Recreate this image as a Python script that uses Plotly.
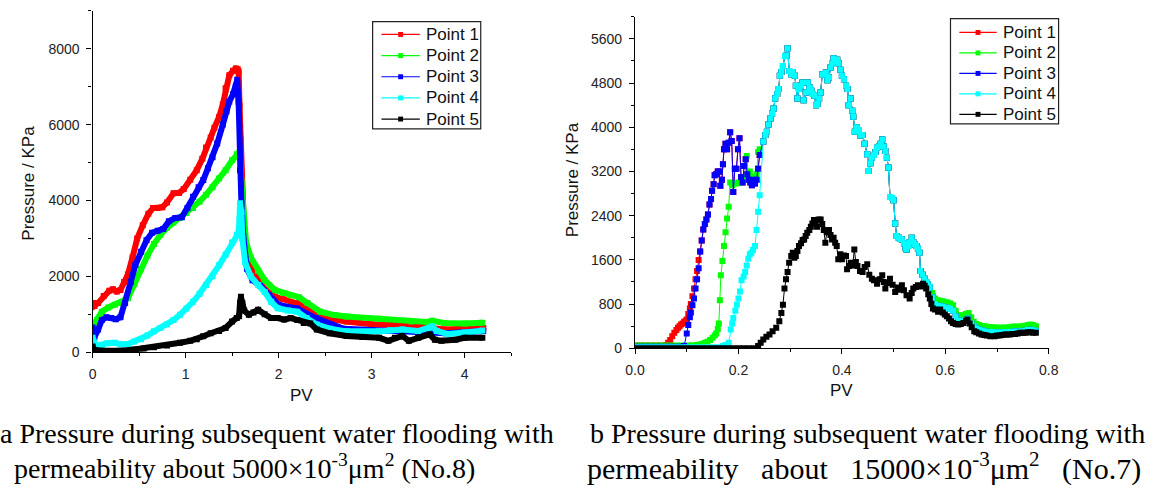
import plotly.graph_objects as go

# ---------------- (a) No.8, permeability ~5000e-3 um^2 ----------------
a1_pv = [0, 0.02, 0.06, 0.12, 0.18, 0.22, 0.26, 0.3, 0.34, 0.38, 0.43, 0.48, 0.54, 0.6, 0.65, 0.7,
         0.75, 0.8, 0.87, 0.93, 0.98, 1.05, 1.12, 1.18, 1.22, 1.27, 1.31, 1.36, 1.40, 1.43, 1.47, 1.51,
         1.54, 1.56, 1.57, 1.58, 1.59, 1.6, 1.61, 1.63, 1.66, 1.7, 1.76, 1.82, 1.9, 1.96, 2.05, 2.2,
         2.3, 2.38, 2.5, 2.73, 3.0, 3.3, 3.5, 3.7, 3.78, 4.0, 4.2]
a1_p = [1300, 1220, 1300, 1480, 1620, 1660, 1600, 1640, 1850, 2050, 2500, 3000, 3350, 3650, 3800, 3800,
        3820, 3950, 4190, 4200, 4300, 4550, 4800, 5100, 5400, 5660, 5920, 6200, 6530, 6960, 7300, 7420,
        7480, 7460, 7400, 6500, 5600, 4600, 3800, 3100, 2600, 2300, 2000, 1750, 1560, 1460, 1400, 1300,
        1200, 1000, 900, 810, 740, 710, 690, 620, 600, 620, 640]

a2_pv = [0, 0.05, 0.1, 0.17, 0.24, 0.3, 0.38, 0.45, 0.52, 0.59, 0.66, 0.73, 0.8, 0.87, 0.94, 1.01,
         1.08, 1.15, 1.22, 1.29, 1.36, 1.43, 1.5, 1.55, 1.58, 1.6, 1.62, 1.65, 1.7, 1.78, 1.85, 1.96,
         2.05, 2.13, 2.22, 2.31, 2.45, 2.6, 2.73, 3.08, 3.43, 3.6, 3.65, 3.78, 4.0, 4.19]
a2_p = [680, 850, 1070, 1180, 1250, 1300, 1420, 1800, 2200, 2550, 2850, 3100, 3280, 3420, 3540, 3670,
        3800, 3970, 4150, 4350, 4580, 4800, 5060, 5220, 5270, 4500, 3600, 2900, 2500, 2150, 1900, 1640,
        1560, 1500, 1450, 1300, 1070, 980, 940, 880, 810, 800, 830, 770, 760, 780]

a3_pv = [0, 0.02, 0.06, 0.1, 0.15, 0.2, 0.25, 0.3, 0.35, 0.41, 0.46, 0.52, 0.58, 0.64, 0.7, 0.76,
         0.82, 0.89, 0.96, 1.02, 1.08, 1.14, 1.19, 1.24, 1.29, 1.34, 1.40, 1.44, 1.47, 1.51, 1.54, 1.555,
         1.57, 1.585, 1.6, 1.62, 1.66, 1.72, 1.8, 1.9, 2.0, 2.2, 2.4, 2.7, 3.0, 3.4, 3.8, 4.2]
a3_p = [650, 400, 600, 850, 920, 900, 870, 920, 1300, 1850, 2300, 2650, 2950, 3150, 3200, 3250,
        3450, 3540, 3560, 3800, 4100, 4350, 4540, 4850, 5140, 5500, 6000, 6350, 6610, 6800, 7000, 7180,
        6600, 4800, 3930, 3060, 2200, 1900, 1750, 1500, 1250, 1150, 900, 620, 580, 560, 500, 560]

a4_pv = [0, 0.04, 0.1, 0.16, 0.24, 0.3, 0.38, 0.45, 0.52, 0.59, 0.66, 0.73, 0.8, 0.87, 0.94, 1.01,
         1.08, 1.15, 1.22, 1.29, 1.36, 1.43, 1.5, 1.55, 1.57, 1.58, 1.585, 1.6, 1.61, 1.64, 1.7, 1.78,
         1.85, 1.92, 1.99, 2.1, 2.2, 2.3, 2.41, 2.55, 2.73, 3.08, 3.2, 3.33, 3.5, 3.61, 3.65, 3.7,
         3.82, 4.0, 4.19]
a4_p = [380, 170, 200, 240, 250, 210, 220, 280, 340, 440, 550, 640, 730, 850, 990, 1150,
        1330, 1540, 1770, 2000, 2290, 2570, 2890, 3100, 3150, 3500, 3930, 3700, 3000, 2370, 2000, 1770,
        1590, 1330, 1160, 1100, 1070, 900, 730, 620, 550, 550, 580, 600, 560, 620, 680, 560,
        480, 520, 570]

a5_pv = [0, 0.02, 0.1, 0.2, 0.31, 0.45, 0.55, 0.66, 0.8, 0.94, 1.05, 1.12, 1.19, 1.27, 1.36, 1.43,
         1.5, 1.55, 1.575, 1.585, 1.595, 1.61, 1.63, 1.68, 1.73, 1.78, 1.85, 1.92, 1.99, 2.06, 2.13, 2.2,
         2.27, 2.34, 2.41, 2.55, 2.73, 2.9, 3.08, 3.18, 3.25, 3.33, 3.4, 3.5, 3.62, 3.68, 3.75, 3.9,
         4.0, 4.19]
a5_p = [150, 60, 40, 30, 40, 70, 100, 130, 180, 250, 300, 340, 420, 500, 560, 640,
        810, 900, 950, 1300, 1460, 1300, 1100, 990, 1050, 1120, 1000, 900, 900, 860, 900, 850,
        770, 760, 600, 500, 430, 400, 380, 300, 380, 430, 300, 380, 470, 330, 300, 330,
        380, 380]

# ---------------- (b) No.7, permeability ~15000e-3 um^2 ----------------
# segment shared by points 1 and 3 while they rise together
b13_pv = [0.126, 0.129, 0.132, 0.135, 0.138, 0.141, 0.144, 0.147, 0.149, 0.152, 0.154, 0.157, 0.16,
          0.163, 0.165, 0.168, 0.17, 0.172, 0.175, 0.178, 0.181, 0.184, 0.187, 0.19, 0.193, 0.196,
          0.199, 0.202, 0.205, 0.208, 0.211, 0.214, 0.217, 0.22, 0.223, 0.226, 0.229, 0.232, 0.235,
          0.238, 0.241]
b13_p = [1750, 1950, 2150, 2250, 2330, 2420, 2600, 2700, 2850, 2970, 3130, 3150, 3200,
         3200, 2940, 3050, 3330, 3600, 3700, 3600, 3720, 3910, 3750, 2830, 3250, 3250,
         3600, 3800, 3100, 3000, 3300, 3420, 3150, 3050, 3000, 2950, 3050, 2980, 3050,
         3250, 3500]

# segment shared by points 1-4 (curves overlap)
bm_pv = [0.248, 0.252, 0.255, 0.258, 0.262, 0.265, 0.268, 0.271, 0.275, 0.278, 0.28, 0.283, 0.286,
         0.29, 0.293, 0.295, 0.298, 0.302, 0.305, 0.309, 0.311, 0.314, 0.317, 0.321, 0.324, 0.326,
         0.331, 0.334, 0.338, 0.341, 0.344, 0.347, 0.35, 0.353, 0.356, 0.359, 0.362, 0.366, 0.369,
         0.372, 0.375, 0.378, 0.381, 0.384, 0.388, 0.391, 0.394, 0.397, 0.4, 0.404, 0.408, 0.411,
         0.413, 0.417, 0.42, 0.422, 0.425, 0.429, 0.433, 0.436, 0.44, 0.444, 0.449, 0.452, 0.455,
         0.458, 0.462, 0.465, 0.468, 0.472, 0.475, 0.478, 0.481, 0.484, 0.487, 0.49, 0.493, 0.497,
         0.5, 0.503, 0.506, 0.51, 0.513, 0.516, 0.52, 0.523, 0.525, 0.528, 0.531, 0.535, 0.538,
         0.541, 0.544, 0.547, 0.55, 0.552, 0.556, 0.56, 0.563, 0.566, 0.57]
bm_p = [3740, 3860, 3920, 4050, 4160, 4250, 4340, 4520, 4600, 4690, 4930, 5000, 5110,
        5290, 5300, 5430, 5020, 4960, 5000, 4930, 4750, 4520, 4690, 4750, 4810, 4490,
        4630, 4810, 4720, 4660, 4600, 4570, 4400, 4420, 4520, 4630, 4960, 4950, 4990,
        4850, 4900, 5080, 5150, 5250, 5200, 5220, 5160, 5040, 4930, 4870, 4750, 4690,
        4400, 4520, 4300, 4190, 3920, 4000, 3950, 3850, 3860, 3700, 3510, 3210, 3350,
        3450, 3500, 3550, 3630, 3650, 3700, 3780, 3650, 3570, 3450, 3270, 2740, 2720,
        2680, 2260, 2030, 2000, 1980, 1970, 1900, 1820, 1790, 1850, 1920, 2000, 1920,
        1880, 1850, 1800, 1730, 1400, 1330, 1260, 1200, 1160, 1110]

bt_pv = [0.575, 0.58, 0.585, 0.59, 0.595, 0.6, 0.605, 0.61, 0.615, 0.62, 0.625, 0.63, 0.635, 0.64,
         0.645, 0.65, 0.655, 0.66, 0.665, 0.67, 0.675, 0.68, 0.685, 0.69, 0.695, 0.7, 0.705, 0.71,
         0.715, 0.72, 0.725, 0.73, 0.735, 0.74, 0.745, 0.75, 0.755, 0.76, 0.765, 0.77, 0.775]
bt1_p = [950, 840, 810, 800, 790, 780, 770, 750, 720, 620, 540, 530, 540, 560,
         580, 500, 430, 390, 370, 355, 345, 335, 330, 325, 320, 320, 320, 320,
         325, 320, 330, 340, 345, 340, 345, 350, 360, 370, 375, 365, 350]
bt2_p = [1000, 900, 870, 860, 850, 840, 830, 810, 780, 680, 600, 590, 600, 620,
         640, 560, 480, 440, 420, 410, 400, 390, 385, 380, 375, 370, 370, 370,
         375, 370, 380, 390, 395, 390, 395, 400, 410, 420, 430, 420, 400]
bt34_p = [920, 800, 770, 760, 750, 740, 730, 710, 680, 580, 500, 490, 500, 520,
          540, 460, 400, 360, 340, 320, 310, 300, 295, 290, 285, 285, 285, 285,
          290, 285, 295, 300, 305, 300, 305, 310, 320, 330, 335, 325, 310]

b1_head_pv = [0, 0.01, 0.02, 0.03, 0.04, 0.05, 0.06, 0.064, 0.068, 0.072, 0.076, 0.08, 0.083, 0.086,
              0.089, 0.092, 0.095, 0.098, 0.1, 0.103, 0.106, 0.108, 0.111, 0.114, 0.117, 0.12, 0.123]
b1_head_p = [50, 50, 50, 50, 50, 50, 60, 100, 150, 220, 280, 330, 370, 400,
             430, 450, 480, 500, 520, 620, 720, 800, 940, 1080, 1250, 1400, 1600]

b3_head_pv = [0, 0.01, 0.02, 0.03, 0.04, 0.05, 0.06, 0.07, 0.08, 0.09, 0.095, 0.1, 0.103, 0.106,
              0.108, 0.111, 0.114, 0.117, 0.12, 0.123]
b3_head_p = [30, 30, 30, 30, 30, 30, 30, 30, 30, 30, 40, 270, 420, 560,
             650, 780, 900, 1080, 1250, 1450]

b2_head_pv = [0, 0.01, 0.02, 0.03, 0.04, 0.05, 0.06, 0.07, 0.08, 0.09, 0.1, 0.11, 0.12, 0.125,
              0.13, 0.135, 0.14, 0.145, 0.15, 0.154, 0.157, 0.16, 0.162, 0.164, 0.166, 0.169,
              0.172, 0.175, 0.178, 0.181, 0.184, 0.188, 0.192, 0.196, 0.2, 0.204, 0.208, 0.212,
              0.216, 0.219, 0.222, 0.225, 0.229, 0.232, 0.235, 0.238, 0.241]
b2_head_p = [50, 50, 50, 50, 50, 50, 50, 50, 50, 50, 50, 55, 60, 70,
             80, 100, 120, 150, 190, 230, 270, 350, 450, 870, 1320, 1580,
             1850, 2100, 2350, 2560, 3000, 2950, 2980, 2980, 3000, 3000, 3050, 3100,
             3480, 3150, 3200, 3090, 3100, 3090, 3150, 3550, 3600]

b4_head_pv = [0, 0.01, 0.02, 0.03, 0.04, 0.05, 0.06, 0.07, 0.08, 0.09, 0.1, 0.11, 0.12, 0.13,
              0.14, 0.15, 0.16, 0.17, 0.175, 0.181, 0.185, 0.188, 0.19, 0.194, 0.197, 0.2, 0.203,
              0.206, 0.21, 0.213, 0.216, 0.219, 0.222, 0.225, 0.228, 0.232, 0.235, 0.238, 0.241]
b4_head_p = [20, 20, 20, 20, 20, 20, 20, 20, 20, 20, 20, 20, 20, 20,
             20, 20, 20, 40, 60, 100, 340, 450, 550, 680, 790, 900, 1030,
             1230, 1300, 1380, 1500, 1620, 1700, 1730, 1780, 1850, 2140, 2470, 2770]

b5_pv = [0, 0.01, 0.02, 0.03, 0.04, 0.05, 0.06, 0.07, 0.08, 0.09, 0.1, 0.11, 0.12, 0.13, 0.14,
         0.15, 0.16, 0.17, 0.18, 0.19, 0.2, 0.21, 0.22, 0.23, 0.238, 0.243, 0.248, 0.254, 0.26,
         0.266, 0.273, 0.279, 0.283, 0.286, 0.289, 0.292, 0.295, 0.298, 0.302, 0.305, 0.308, 0.311,
         0.314, 0.317, 0.321, 0.324, 0.327, 0.33, 0.333, 0.337, 0.34, 0.343, 0.346, 0.349, 0.352,
         0.355, 0.359, 0.362, 0.365, 0.368, 0.371, 0.375, 0.378, 0.381, 0.384, 0.387, 0.39, 0.393,
         0.397, 0.4, 0.404, 0.408, 0.41, 0.414, 0.417, 0.421, 0.424, 0.427, 0.43, 0.435, 0.44,
         0.444, 0.449, 0.453, 0.458, 0.462, 0.468, 0.473, 0.478, 0.481, 0.484, 0.488, 0.493,
         0.498, 0.503, 0.508, 0.512, 0.516, 0.52, 0.525, 0.531, 0.535, 0.538, 0.543, 0.547, 0.552,
         0.557, 0.56, 0.563, 0.567, 0.57, 0.573, 0.576, 0.58, 0.586, 0.59, 0.595, 0.599, 0.603,
         0.607, 0.611, 0.615, 0.62, 0.625, 0.63, 0.635, 0.64, 0.643, 0.647, 0.651, 0.656, 0.66,
         0.665, 0.67, 0.675, 0.68, 0.687, 0.695, 0.7, 0.705, 0.71, 0.715, 0.719, 0.725, 0.73,
         0.735, 0.74, 0.744, 0.75, 0.755, 0.76, 0.765, 0.77, 0.775]
b5_p = [0, 0, 0, 0, 0, 0, 0, 0, 0, 0, 0, 0, 0, 0, 0,
        0, 0, 0, 0, 0, 0, 0, 0, 0, 40, 100, 160, 210, 250,
        310, 370, 490, 640, 790, 1080, 1250, 1380, 1550, 1670, 1730, 1640, 1670,
        1760, 1850, 1900, 1960, 1970, 2030, 2090, 2140, 2200, 2260, 2320, 2280, 2200,
        2330, 2330, 2250, 2140, 1910, 2100, 2140, 2050, 1970, 2000, 1910, 1850, 1610,
        1700, 1610, 1680, 1670, 1430, 1490, 1550, 1500, 1790, 1560, 1490, 1400, 1380,
        1470, 1520, 1330, 1260, 1230, 1170, 1250, 1320, 1200, 1080, 1180, 1260,
        1150, 1020, 1100, 1060, 1140, 1050, 960, 900, 1000, 1080, 1110, 1140, 1120,
        1170, 1130, 1080, 980, 900, 800, 720, 700, 660, 700, 650, 610, 580,
        540, 490, 460, 440, 430, 440, 460, 500, 520, 450, 380, 310, 290,
        270, 250, 240, 230, 220, 220, 230, 230, 240, 250, 250, 250, 260,
        260, 270, 280, 280, 280, 290, 290, 280, 280]

b1_pv = b1_head_pv + b13_pv + bm_pv + bt_pv
b1_p = b1_head_p + b13_p + bm_p + bt1_p
b2_pv = b2_head_pv + bm_pv + bt_pv
b2_p = b2_head_p + bm_p + bt2_p
b3_pv = b3_head_pv + b13_pv + bm_pv + bt_pv
b3_p = b3_head_p + b13_p + bm_p + bt34_p
b4_pv = b4_head_pv + bm_pv + bt_pv
b4_p = b4_head_p + bm_p + bt34_p

names = ["Point 1", "Point 2", "Point 3", "Point 4", "Point 5"]
colors = ["#FF0000", "#00FF00", "#0000FF", "#00FFFF", "#000000"]

left_series = [(a1_pv, a1_p), (a2_pv, a2_p), (a3_pv, a3_p), (a4_pv, a4_p), (a5_pv, a5_p)]
right_series = [(b1_pv, b1_p), (b2_pv, b2_p), (b3_pv, b3_p), (b4_pv, b4_p), (b5_pv, b5_p)]

SANS = "Arial, Liberation Sans, sans-serif"
SERIF = "Times New Roman, Liberation Serif, serif"
W, H = 1159, 497


def px_x(v):
    return v / W


def px_y(v):
    return 1 - v / H


fig = go.Figure()

# left panel: dense records drawn as thick banded curves
for (x, y), c, n in zip(left_series, colors, names):
    fig.add_trace(go.Scatter(x=x, y=y, mode="lines+markers", xaxis="x", yaxis="y", name=n,
                             line=dict(color=c, width=6),
                             marker=dict(symbol="square", size=6, color=c),
                             showlegend=False, hoverinfo="skip"))

# right panel: individual samples with thin connecting lines
for (x, y), c, n in zip(right_series, colors, names):
    fig.add_trace(go.Scatter(x=x, y=y, mode="lines+markers", xaxis="x2", yaxis="y2", name=n,
                             line=dict(color=c, width=1),
                             marker=dict(symbol="square", size=6, color=c),
                             showlegend=False, hoverinfo="skip"))

axis_common = dict(showgrid=False, zeroline=False, showline=True, linecolor="black",
                   linewidth=1.3, ticks="outside", ticklen=5, tickwidth=1.3,
                   tickcolor="black", tickfont=dict(family=SANS, size=14, color="#222"),
                   ticklabelstandoff=4, mirror=False)

fig.update_layout(
    width=W, height=H,
    margin=dict(l=0, r=0, t=0, b=0),
    paper_bgcolor="white", plot_bgcolor="white",
    showlegend=False,
    xaxis=dict(domain=[px_x(84), px_x(510)], range=[0, 4.5], tick0=0, dtick=1,
               minor=dict(dtick=0.5, ticks="outside", ticklen=3, tickcolor="black"),
               anchor="y", **axis_common),
    yaxis=dict(domain=[px_y(358), px_y(11)], range=[0, 9000], tick0=0, dtick=2000,
               minor=dict(dtick=1000, ticks="outside", ticklen=3, tickcolor="black"),
               anchor="x", **axis_common),
    xaxis2=dict(domain=[px_x(636), px_x(1057)], range=[0, 0.8], tick0=0, dtick=0.2,
                tickformat=".1f",
                minor=dict(dtick=0.1, ticks="outside", ticklen=3, tickcolor="black"),
                anchor="y2", **axis_common),
    yaxis2=dict(domain=[px_y(354), px_y(17)], range=[0, 6000], tick0=0, dtick=800,
                minor=dict(dtick=400, ticks="outside", ticklen=3, tickcolor="black"),
                anchor="x2", **axis_common),
)

# legend boxes: line sample with a square symbol, then the series name
shapes = []
ann = []
legend_boxes = [
    # (left, top, right, bottom, first row y, row step, line x0, line x1, text x)
    (369, 22, 479, 131, 35, 21.5, 378, 417, 421),
    (957, 19, 1067, 126, 33, 20.8, 966, 1004, 1008),
]
for (bx0, by0, bx1, by1, ry0, step, lx0, lx1, tx) in legend_boxes:
    shapes.append(dict(type="rect", xref="paper", yref="paper",
                       x0=px_x(bx0), x1=px_x(bx1), y0=px_y(by1), y1=px_y(by0),
                       line=dict(color="#222", width=1.2), fillcolor="white", layer="above"))
    for i, (n, c) in enumerate(zip(names, colors)):
        ry = ry0 + i * step
        shapes.append(dict(type="line", xref="paper", yref="paper",
                           x0=px_x(lx0), x1=px_x(lx1), y0=px_y(ry), y1=px_y(ry),
                           line=dict(color=c, width=1.2), layer="above"))
        mx = (lx0 + lx1) / 2
        shapes.append(dict(type="rect", xref="paper", yref="paper",
                           x0=px_x(mx - 2.5), x1=px_x(mx + 2.5),
                           y0=px_y(ry + 2.5), y1=px_y(ry - 2.5),
                           line=dict(color=c, width=0), fillcolor=c, layer="above"))
        ann.append(dict(text=n, x=px_x(tx), y=px_y(ry), xanchor="left", yanchor="middle",
                        font=dict(family=SANS, size=17, color="#111")))

title_font = dict(family=SANS, size=17, color="#111")
ann += [
    dict(text="Pressure / KPa", x=px_x(18), y=px_y(186), textangle=-90, font=title_font),
    dict(text="PV", x=px_x(297), y=px_y(402), font=title_font),
    dict(text="Pressure / KPa", x=px_x(572), y=px_y(183), textangle=-90, font=title_font),
    dict(text="PV", x=px_x(846), y=px_y(397), font=title_font),
]
cap_font = dict(family=SERIF, size=28, color="black")
GAP = "\u00a0" * 3   # wider word gap of the justified caption line
caps = [
    ("a Pressure during subsequent water flooding with", -12, 441, 28),
    ("permeability about 5000×10<sup>-3</sup>μm<sup>2</sup> (No.8)", 2, 474, 28),
    ("b Pressure during subsequent water flooding with", 588, 441, 28),
    ("permeability" + GAP + "about" + GAP + "15000×10<sup>-3</sup>μm<sup>2</sup>" + GAP
     + "(No.7)", 585, 474, 30),
]
for t, x, y, s in caps:
    ann.append(dict(text=t, x=px_x(x), y=px_y(y), xanchor="left",
                    font=dict(cap_font, size=s)))

for a in ann:
    a.update(xref="paper", yref="paper", showarrow=False)
    a.setdefault("xanchor", "center")
    a.setdefault("yanchor", "middle")
fig.update_layout(annotations=ann, shapes=shapes)

fig.write_html("out.html")
